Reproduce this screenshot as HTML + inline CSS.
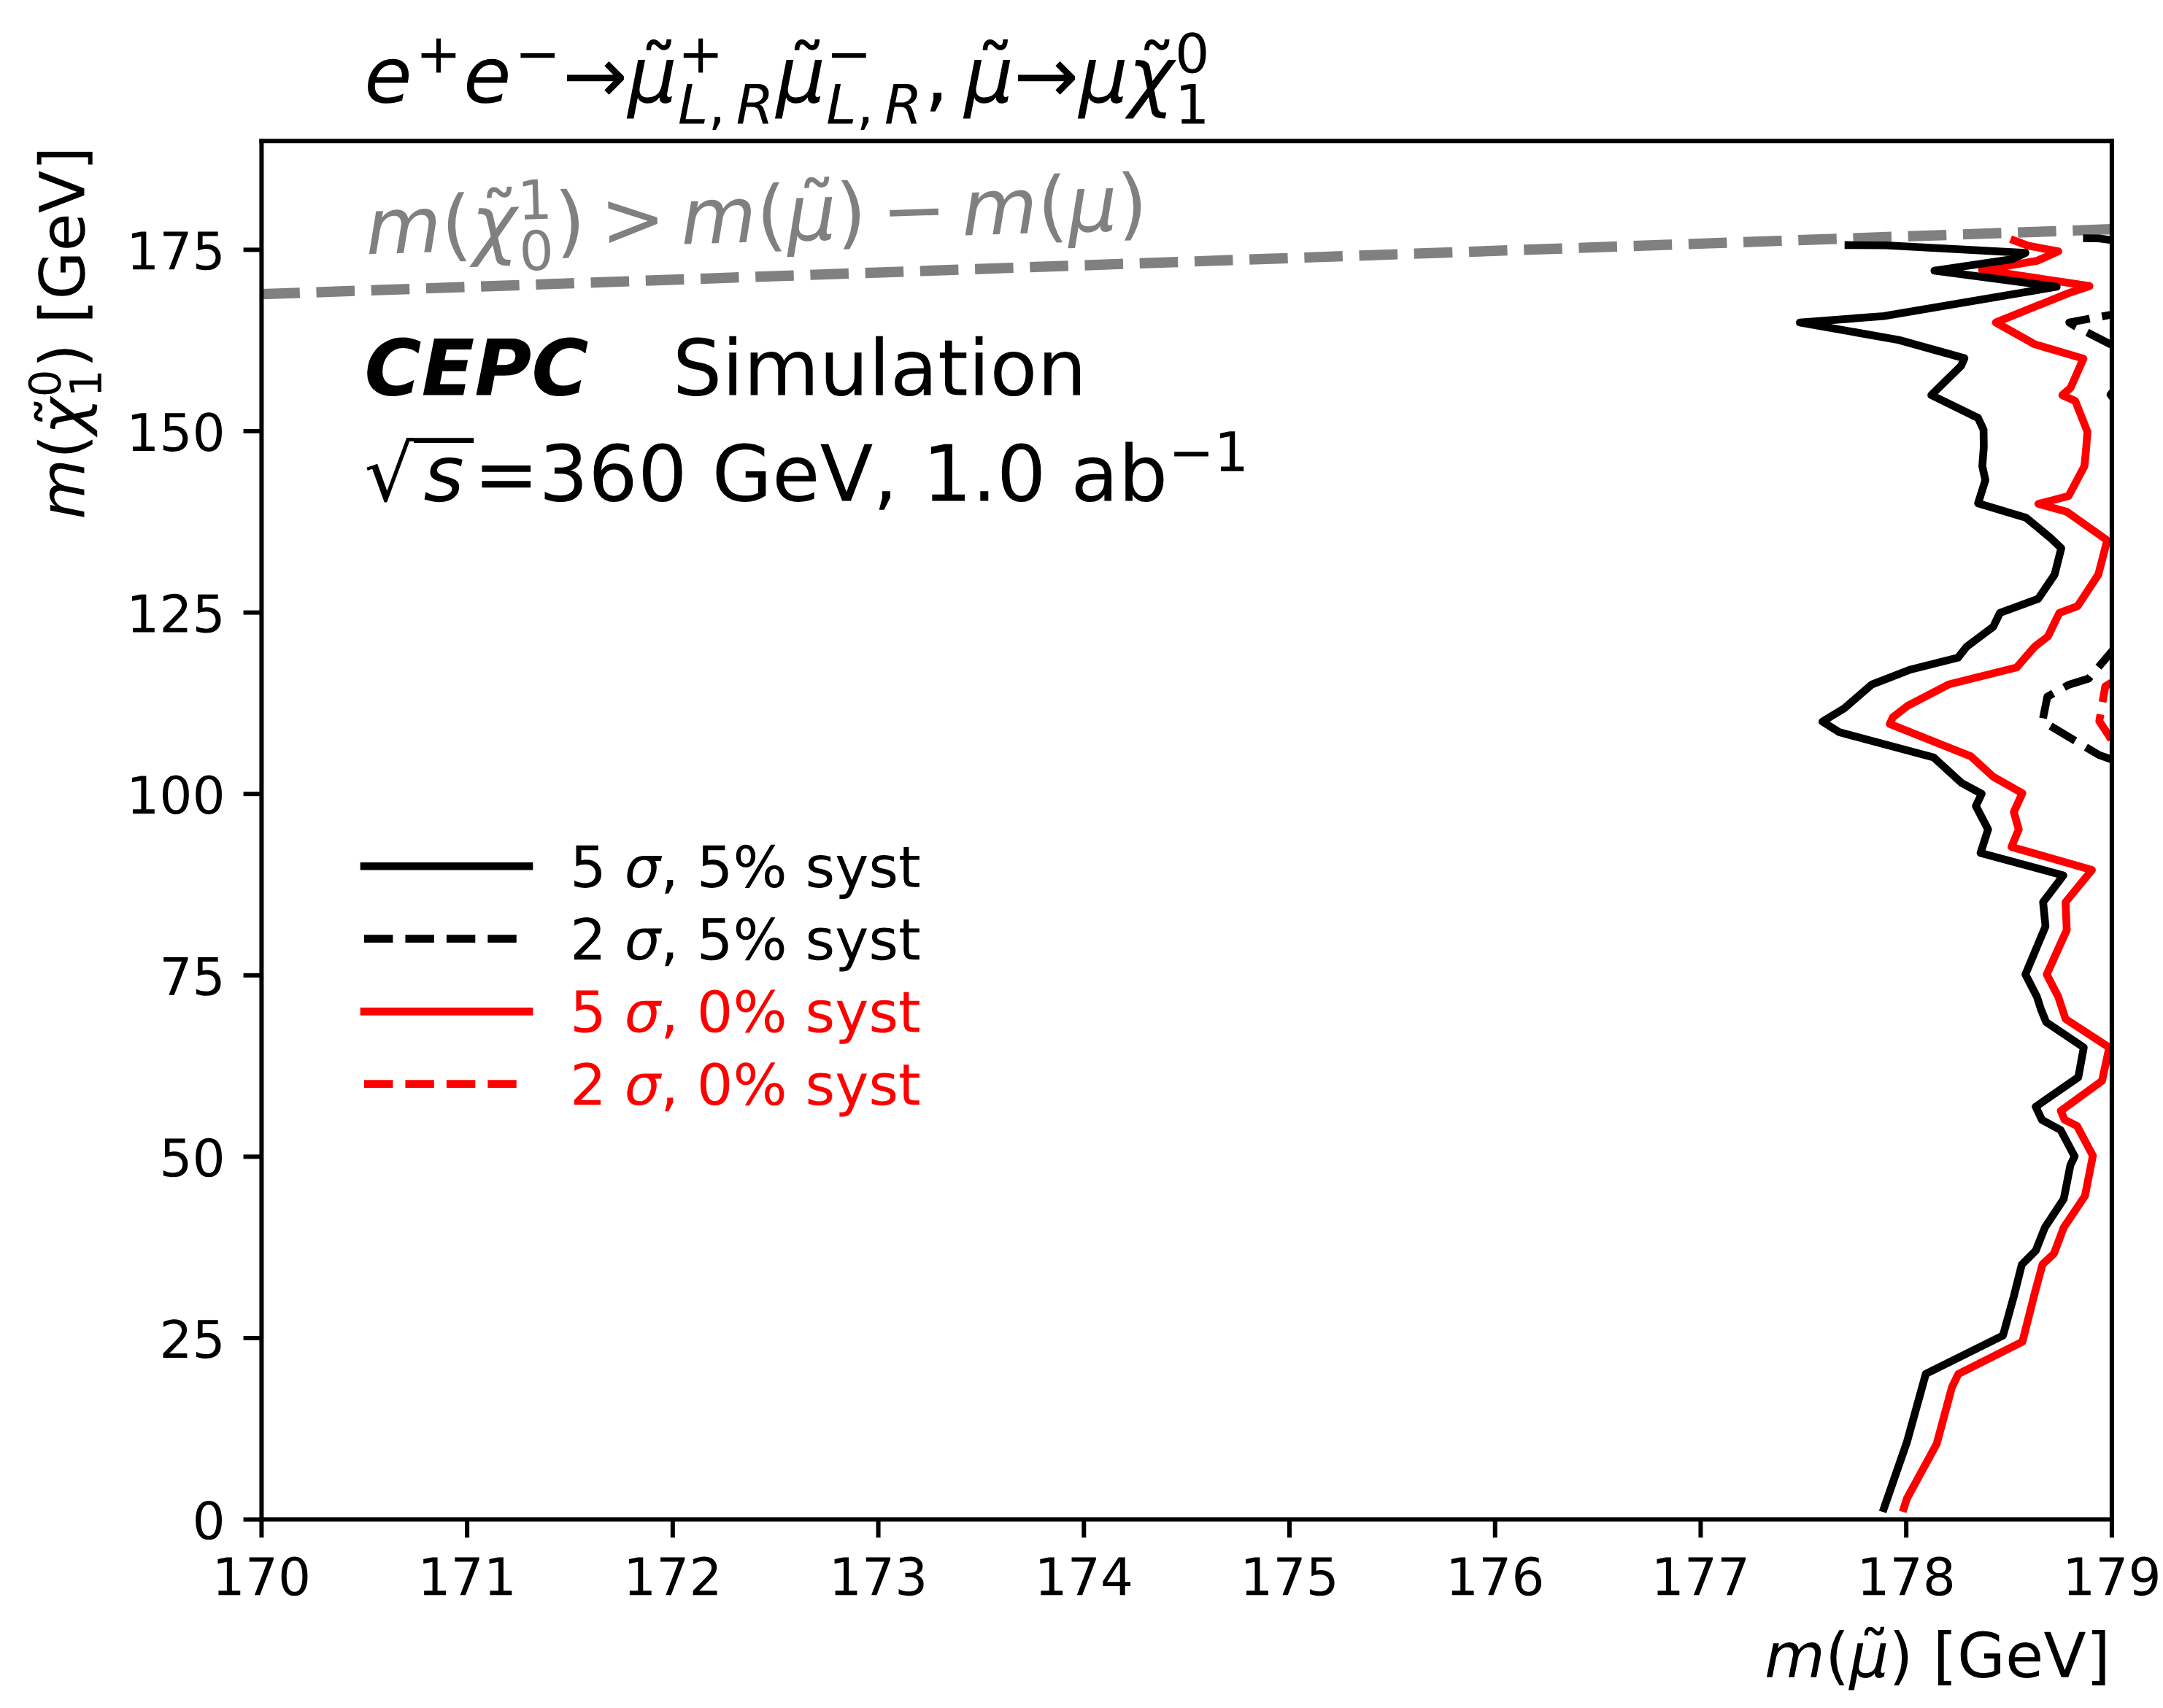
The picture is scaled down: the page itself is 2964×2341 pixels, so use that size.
<!DOCTYPE html>
<html><head><meta charset="utf-8"><title>chart</title>
<style>html,body{margin:0;padding:0;overflow:hidden;background:#fff;font-family:"Liberation Sans",sans-serif;}svg{display:block}</style>
</head><body>
<svg  width="2964" height="2341" viewBox="0 0 417.464789 329.71831"  version="1.1">
 
 <defs>
  <style type="text/css">*{stroke-linejoin: round; stroke-linecap: butt}</style>
 </defs>
 <g id="figure_1">
  <g id="patch_1">
   <path d="M 0 329.71831 
L 417.464789 329.71831 
L 417.464789 0 
L 0 0 
z
" style="fill: #ffffff"/>
  </g>
  <g id="axes_1">
   <g id="patch_2">
    <path d="M 50.478873 293.323944 
L 407.591549 293.323944 
L 407.591549 27.211268 
L 50.478873 27.211268 
z
" style="fill: #ffffff"/>
   </g>
   <g id="matplotlib.axis_1">
    <g id="xtick_1">
     <g id="line2d_1">
      <defs>
       <path id="mb6ef2c08df" d="M 0 0 
L 0 3.5 
" style="stroke: #000000; stroke-width: 0.845"/>
      </defs>
      <g>
       <use href="#mb6ef2c08df" x="50.478873" y="293.323944" style="stroke: #000000; stroke-width: 0.845"/>
      </g>
     </g>
     <g id="text_1">
      <!-- 170 -->
      <g transform="translate(40.935123 307.922381) scale(0.1 -0.1)">
       <defs>
        <path id="DejaVuSans-31" d="M 794 531 
L 1825 531 
L 1825 4091 
L 703 3866 
L 703 4441 
L 1819 4666 
L 2450 4666 
L 2450 531 
L 3481 531 
L 3481 0 
L 794 0 
L 794 531 
z
" transform="scale(0.015625)"/>
        <path id="DejaVuSans-37" d="M 525 4666 
L 3525 4666 
L 3525 4397 
L 1831 0 
L 1172 0 
L 2766 4134 
L 525 4134 
L 525 4666 
z
" transform="scale(0.015625)"/>
        <path id="DejaVuSans-30" d="M 2034 4250 
Q 1547 4250 1301 3770 
Q 1056 3291 1056 2328 
Q 1056 1369 1301 889 
Q 1547 409 2034 409 
Q 2525 409 2770 889 
Q 3016 1369 3016 2328 
Q 3016 3291 2770 3770 
Q 2525 4250 2034 4250 
z
M 2034 4750 
Q 2819 4750 3233 4129 
Q 3647 3509 3647 2328 
Q 3647 1150 3233 529 
Q 2819 -91 2034 -91 
Q 1250 -91 836 529 
Q 422 1150 422 2328 
Q 422 3509 836 4129 
Q 1250 4750 2034 4750 
z
" transform="scale(0.015625)"/>
       </defs>
       <use href="#DejaVuSans-31"/>
       <use href="#DejaVuSans-37" transform="translate(63.623047 0)"/>
       <use href="#DejaVuSans-30" transform="translate(127.246094 0)"/>
      </g>
     </g>
    </g>
    <g id="xtick_2">
     <g id="line2d_2">
      <g>
       <use href="#mb6ef2c08df" x="90.158059" y="293.323944" style="stroke: #000000; stroke-width: 0.845"/>
      </g>
     </g>
     <g id="text_2">
      <!-- 171 -->
      <g transform="translate(80.614309 307.922381) scale(0.1 -0.1)">
       <use href="#DejaVuSans-31"/>
       <use href="#DejaVuSans-37" transform="translate(63.623047 0)"/>
       <use href="#DejaVuSans-31" transform="translate(127.246094 0)"/>
      </g>
     </g>
    </g>
    <g id="xtick_3">
     <g id="line2d_3">
      <g>
       <use href="#mb6ef2c08df" x="129.837246" y="293.323944" style="stroke: #000000; stroke-width: 0.845"/>
      </g>
     </g>
     <g id="text_3">
      <!-- 172 -->
      <g transform="translate(120.293496 307.922381) scale(0.1 -0.1)">
       <defs>
        <path id="DejaVuSans-32" d="M 1228 531 
L 3431 531 
L 3431 0 
L 469 0 
L 469 531 
Q 828 903 1448 1529 
Q 2069 2156 2228 2338 
Q 2531 2678 2651 2914 
Q 2772 3150 2772 3378 
Q 2772 3750 2511 3984 
Q 2250 4219 1831 4219 
Q 1534 4219 1204 4116 
Q 875 4013 500 3803 
L 500 4441 
Q 881 4594 1212 4672 
Q 1544 4750 1819 4750 
Q 2544 4750 2975 4387 
Q 3406 4025 3406 3419 
Q 3406 3131 3298 2873 
Q 3191 2616 2906 2266 
Q 2828 2175 2409 1742 
Q 1991 1309 1228 531 
z
" transform="scale(0.015625)"/>
       </defs>
       <use href="#DejaVuSans-31"/>
       <use href="#DejaVuSans-37" transform="translate(63.623047 0)"/>
       <use href="#DejaVuSans-32" transform="translate(127.246094 0)"/>
      </g>
     </g>
    </g>
    <g id="xtick_4">
     <g id="line2d_4">
      <g>
       <use href="#mb6ef2c08df" x="169.516432" y="293.323944" style="stroke: #000000; stroke-width: 0.845"/>
      </g>
     </g>
     <g id="text_4">
      <!-- 173 -->
      <g transform="translate(159.972682 307.922381) scale(0.1 -0.1)">
       <defs>
        <path id="DejaVuSans-33" d="M 2597 2516 
Q 3050 2419 3304 2112 
Q 3559 1806 3559 1356 
Q 3559 666 3084 287 
Q 2609 -91 1734 -91 
Q 1441 -91 1130 -33 
Q 819 25 488 141 
L 488 750 
Q 750 597 1062 519 
Q 1375 441 1716 441 
Q 2309 441 2620 675 
Q 2931 909 2931 1356 
Q 2931 1769 2642 2001 
Q 2353 2234 1838 2234 
L 1294 2234 
L 1294 2753 
L 1863 2753 
Q 2328 2753 2575 2939 
Q 2822 3125 2822 3475 
Q 2822 3834 2567 4026 
Q 2313 4219 1838 4219 
Q 1578 4219 1281 4162 
Q 984 4106 628 3988 
L 628 4550 
Q 988 4650 1302 4700 
Q 1616 4750 1894 4750 
Q 2613 4750 3031 4423 
Q 3450 4097 3450 3541 
Q 3450 3153 3228 2886 
Q 3006 2619 2597 2516 
z
" transform="scale(0.015625)"/>
       </defs>
       <use href="#DejaVuSans-31"/>
       <use href="#DejaVuSans-37" transform="translate(63.623047 0)"/>
       <use href="#DejaVuSans-33" transform="translate(127.246094 0)"/>
      </g>
     </g>
    </g>
    <g id="xtick_5">
     <g id="line2d_5">
      <g>
       <use href="#mb6ef2c08df" x="209.195618" y="293.323944" style="stroke: #000000; stroke-width: 0.845"/>
      </g>
     </g>
     <g id="text_5">
      <!-- 174 -->
      <g transform="translate(199.651868 307.922381) scale(0.1 -0.1)">
       <defs>
        <path id="DejaVuSans-34" d="M 2419 4116 
L 825 1625 
L 2419 1625 
L 2419 4116 
z
M 2253 4666 
L 3047 4666 
L 3047 1625 
L 3713 1625 
L 3713 1100 
L 3047 1100 
L 3047 0 
L 2419 0 
L 2419 1100 
L 313 1100 
L 313 1709 
L 2253 4666 
z
" transform="scale(0.015625)"/>
       </defs>
       <use href="#DejaVuSans-31"/>
       <use href="#DejaVuSans-37" transform="translate(63.623047 0)"/>
       <use href="#DejaVuSans-34" transform="translate(127.246094 0)"/>
      </g>
     </g>
    </g>
    <g id="xtick_6">
     <g id="line2d_6">
      <g>
       <use href="#mb6ef2c08df" x="248.874804" y="293.323944" style="stroke: #000000; stroke-width: 0.845"/>
      </g>
     </g>
     <g id="text_6">
      <!-- 175 -->
      <g transform="translate(239.331054 307.922381) scale(0.1 -0.1)">
       <defs>
        <path id="DejaVuSans-35" d="M 691 4666 
L 3169 4666 
L 3169 4134 
L 1269 4134 
L 1269 2991 
Q 1406 3038 1543 3061 
Q 1681 3084 1819 3084 
Q 2600 3084 3056 2656 
Q 3513 2228 3513 1497 
Q 3513 744 3044 326 
Q 2575 -91 1722 -91 
Q 1428 -91 1123 -41 
Q 819 9 494 109 
L 494 744 
Q 775 591 1075 516 
Q 1375 441 1709 441 
Q 2250 441 2565 725 
Q 2881 1009 2881 1497 
Q 2881 1984 2565 2268 
Q 2250 2553 1709 2553 
Q 1456 2553 1204 2497 
Q 953 2441 691 2322 
L 691 4666 
z
" transform="scale(0.015625)"/>
       </defs>
       <use href="#DejaVuSans-31"/>
       <use href="#DejaVuSans-37" transform="translate(63.623047 0)"/>
       <use href="#DejaVuSans-35" transform="translate(127.246094 0)"/>
      </g>
     </g>
    </g>
    <g id="xtick_7">
     <g id="line2d_7">
      <g>
       <use href="#mb6ef2c08df" x="288.553991" y="293.323944" style="stroke: #000000; stroke-width: 0.845"/>
      </g>
     </g>
     <g id="text_7">
      <!-- 176 -->
      <g transform="translate(279.010241 307.922381) scale(0.1 -0.1)">
       <defs>
        <path id="DejaVuSans-36" d="M 2113 2584 
Q 1688 2584 1439 2293 
Q 1191 2003 1191 1497 
Q 1191 994 1439 701 
Q 1688 409 2113 409 
Q 2538 409 2786 701 
Q 3034 994 3034 1497 
Q 3034 2003 2786 2293 
Q 2538 2584 2113 2584 
z
M 3366 4563 
L 3366 3988 
Q 3128 4100 2886 4159 
Q 2644 4219 2406 4219 
Q 1781 4219 1451 3797 
Q 1122 3375 1075 2522 
Q 1259 2794 1537 2939 
Q 1816 3084 2150 3084 
Q 2853 3084 3261 2657 
Q 3669 2231 3669 1497 
Q 3669 778 3244 343 
Q 2819 -91 2113 -91 
Q 1303 -91 875 529 
Q 447 1150 447 2328 
Q 447 3434 972 4092 
Q 1497 4750 2381 4750 
Q 2619 4750 2861 4703 
Q 3103 4656 3366 4563 
z
" transform="scale(0.015625)"/>
       </defs>
       <use href="#DejaVuSans-31"/>
       <use href="#DejaVuSans-37" transform="translate(63.623047 0)"/>
       <use href="#DejaVuSans-36" transform="translate(127.246094 0)"/>
      </g>
     </g>
    </g>
    <g id="xtick_8">
     <g id="line2d_8">
      <g>
       <use href="#mb6ef2c08df" x="328.233177" y="293.323944" style="stroke: #000000; stroke-width: 0.845"/>
      </g>
     </g>
     <g id="text_8">
      <!-- 177 -->
      <g transform="translate(318.689427 307.922381) scale(0.1 -0.1)">
       <use href="#DejaVuSans-31"/>
       <use href="#DejaVuSans-37" transform="translate(63.623047 0)"/>
       <use href="#DejaVuSans-37" transform="translate(127.246094 0)"/>
      </g>
     </g>
    </g>
    <g id="xtick_9">
     <g id="line2d_9">
      <g>
       <use href="#mb6ef2c08df" x="367.912363" y="293.323944" style="stroke: #000000; stroke-width: 0.845"/>
      </g>
     </g>
     <g id="text_9">
      <!-- 178 -->
      <g transform="translate(358.368613 307.922381) scale(0.1 -0.1)">
       <defs>
        <path id="DejaVuSans-38" d="M 2034 2216 
Q 1584 2216 1326 1975 
Q 1069 1734 1069 1313 
Q 1069 891 1326 650 
Q 1584 409 2034 409 
Q 2484 409 2743 651 
Q 3003 894 3003 1313 
Q 3003 1734 2745 1975 
Q 2488 2216 2034 2216 
z
M 1403 2484 
Q 997 2584 770 2862 
Q 544 3141 544 3541 
Q 544 4100 942 4425 
Q 1341 4750 2034 4750 
Q 2731 4750 3128 4425 
Q 3525 4100 3525 3541 
Q 3525 3141 3298 2862 
Q 3072 2584 2669 2484 
Q 3125 2378 3379 2068 
Q 3634 1759 3634 1313 
Q 3634 634 3220 271 
Q 2806 -91 2034 -91 
Q 1263 -91 848 271 
Q 434 634 434 1313 
Q 434 1759 690 2068 
Q 947 2378 1403 2484 
z
M 1172 3481 
Q 1172 3119 1398 2916 
Q 1625 2713 2034 2713 
Q 2441 2713 2670 2916 
Q 2900 3119 2900 3481 
Q 2900 3844 2670 4047 
Q 2441 4250 2034 4250 
Q 1625 4250 1398 4047 
Q 1172 3844 1172 3481 
z
" transform="scale(0.015625)"/>
       </defs>
       <use href="#DejaVuSans-31"/>
       <use href="#DejaVuSans-37" transform="translate(63.623047 0)"/>
       <use href="#DejaVuSans-38" transform="translate(127.246094 0)"/>
      </g>
     </g>
    </g>
    <g id="xtick_10">
     <g id="line2d_10">
      <g>
       <use href="#mb6ef2c08df" x="407.591549" y="293.323944" style="stroke: #000000; stroke-width: 0.845"/>
      </g>
     </g>
     <g id="text_10">
      <!-- 179 -->
      <g transform="translate(398.047799 307.922381) scale(0.1 -0.1)">
       <defs>
        <path id="DejaVuSans-39" d="M 703 97 
L 703 672 
Q 941 559 1184 500 
Q 1428 441 1663 441 
Q 2288 441 2617 861 
Q 2947 1281 2994 2138 
Q 2813 1869 2534 1725 
Q 2256 1581 1919 1581 
Q 1219 1581 811 2004 
Q 403 2428 403 3163 
Q 403 3881 828 4315 
Q 1253 4750 1959 4750 
Q 2769 4750 3195 4129 
Q 3622 3509 3622 2328 
Q 3622 1225 3098 567 
Q 2575 -91 1691 -91 
Q 1453 -91 1209 -44 
Q 966 3 703 97 
z
M 1959 2075 
Q 2384 2075 2632 2365 
Q 2881 2656 2881 3163 
Q 2881 3666 2632 3958 
Q 2384 4250 1959 4250 
Q 1534 4250 1286 3958 
Q 1038 3666 1038 3163 
Q 1038 2656 1286 2365 
Q 1534 2075 1959 2075 
z
" transform="scale(0.015625)"/>
       </defs>
       <use href="#DejaVuSans-31"/>
       <use href="#DejaVuSans-37" transform="translate(63.623047 0)"/>
       <use href="#DejaVuSans-39" transform="translate(127.246094 0)"/>
      </g>
     </g>
    </g>
   </g>
   <g id="matplotlib.axis_2">
    <g id="ytick_1">
     <g id="line2d_11">
      <defs>
       <path id="ma16149cf68" d="M 0 0 
L -3.5 0 
" style="stroke: #000000; stroke-width: 0.845"/>
      </defs>
      <g>
       <use href="#ma16149cf68" x="50.478873" y="293.323944" style="stroke: #000000; stroke-width: 0.845"/>
      </g>
     </g>
     <g id="text_11">
      <!-- 0 -->
      <g transform="translate(37.116373 297.123162) scale(0.1 -0.1)">
       <use href="#DejaVuSans-30"/>
      </g>
     </g>
    </g>
    <g id="ytick_2">
     <g id="line2d_12">
      <g>
       <use href="#ma16149cf68" x="50.478873" y="258.309118" style="stroke: #000000; stroke-width: 0.845"/>
      </g>
     </g>
     <g id="text_12">
      <!-- 25 -->
      <g transform="translate(30.753873 262.108337) scale(0.1 -0.1)">
       <use href="#DejaVuSans-32"/>
       <use href="#DejaVuSans-35" transform="translate(63.623047 0)"/>
      </g>
     </g>
    </g>
    <g id="ytick_3">
     <g id="line2d_13">
      <g>
       <use href="#ma16149cf68" x="50.478873" y="223.294292" style="stroke: #000000; stroke-width: 0.845"/>
      </g>
     </g>
     <g id="text_13">
      <!-- 50 -->
      <g transform="translate(30.753873 227.093511) scale(0.1 -0.1)">
       <use href="#DejaVuSans-35"/>
       <use href="#DejaVuSans-30" transform="translate(63.623047 0)"/>
      </g>
     </g>
    </g>
    <g id="ytick_4">
     <g id="line2d_14">
      <g>
       <use href="#ma16149cf68" x="50.478873" y="188.279466" style="stroke: #000000; stroke-width: 0.845"/>
      </g>
     </g>
     <g id="text_14">
      <!-- 75 -->
      <g transform="translate(30.753873 192.078685) scale(0.1 -0.1)">
       <use href="#DejaVuSans-37"/>
       <use href="#DejaVuSans-35" transform="translate(63.623047 0)"/>
      </g>
     </g>
    </g>
    <g id="ytick_5">
     <g id="line2d_15">
      <g>
       <use href="#ma16149cf68" x="50.478873" y="153.26464" style="stroke: #000000; stroke-width: 0.845"/>
      </g>
     </g>
     <g id="text_15">
      <!-- 100 -->
      <g transform="translate(24.391373 157.063859) scale(0.1 -0.1)">
       <use href="#DejaVuSans-31"/>
       <use href="#DejaVuSans-30" transform="translate(63.623047 0)"/>
       <use href="#DejaVuSans-30" transform="translate(127.246094 0)"/>
      </g>
     </g>
    </g>
    <g id="ytick_6">
     <g id="line2d_16">
      <g>
       <use href="#ma16149cf68" x="50.478873" y="118.249815" style="stroke: #000000; stroke-width: 0.845"/>
      </g>
     </g>
     <g id="text_16">
      <!-- 125 -->
      <g transform="translate(24.391373 122.049033) scale(0.1 -0.1)">
       <use href="#DejaVuSans-31"/>
       <use href="#DejaVuSans-32" transform="translate(63.623047 0)"/>
       <use href="#DejaVuSans-35" transform="translate(127.246094 0)"/>
      </g>
     </g>
    </g>
    <g id="ytick_7">
     <g id="line2d_17">
      <g>
       <use href="#ma16149cf68" x="50.478873" y="83.234989" style="stroke: #000000; stroke-width: 0.845"/>
      </g>
     </g>
     <g id="text_17">
      <!-- 150 -->
      <g transform="translate(24.391373 87.034208) scale(0.1 -0.1)">
       <use href="#DejaVuSans-31"/>
       <use href="#DejaVuSans-35" transform="translate(63.623047 0)"/>
       <use href="#DejaVuSans-30" transform="translate(127.246094 0)"/>
      </g>
     </g>
    </g>
    <g id="ytick_8">
     <g id="line2d_18">
      <g>
       <use href="#ma16149cf68" x="50.478873" y="48.220163" style="stroke: #000000; stroke-width: 0.845"/>
      </g>
     </g>
     <g id="text_18">
      <!-- 175 -->
      <g transform="translate(24.391373 52.019382) scale(0.1 -0.1)">
       <use href="#DejaVuSans-31"/>
       <use href="#DejaVuSans-37" transform="translate(63.623047 0)"/>
       <use href="#DejaVuSans-35" transform="translate(127.246094 0)"/>
      </g>
     </g>
    </g>
   </g>
   <g id="line2d_19">
    <path d="M 50.464789 56.788732 
L 407.591549 44.239437 
" clip-path="url(#pb30cb922de)" style="fill: none; stroke-dasharray: 7.4,3.2; stroke-dashoffset: 0; stroke: #808080; stroke-width: 2"/>
   </g>
   <g id="line2d_20">
    <path d="M 388.042254 46.15493 
L 391.408451 47.43662 
L 397.267606 48.521127 
L 393.183099 50.338028 
L 382.535211 52.098592 
L 403.28169 55.225352 
L 399.15493 56.619718 
L 385.197183 62.253521 
L 392.732394 66.478873 
L 402.112676 69.225352 
L 399.605634 74.901408 
L 398.028169 76.28169 
L 400.535211 77.408451 
L 402.873239 83.323944 
L 402.633803 86.605634 
L 402.295775 90 
L 399.239437 95.746479 
L 393.408451 97.267606 
L 398.887324 98.788732 
L 406.690141 104.295775 
L 404.985915 110.915493 
L 401 117 
L 397.478873 118.295775 
L 395.253521 122.873239 
L 392.676056 124.859155 
L 389.197183 128.859155 
L 376.084507 132.140845 
L 368.28169 136.183099 
L 365.338028 138.450704 
L 364.732394 139.760563 
L 380.422535 146.028169 
L 384.690141 149.957746 
L 390.309859 153.126761 
L 388.676056 156.760563 
L 389.619718 160.112676 
L 388.225352 163.492958 
L 403.746479 167.943662 
L 398.661972 174.15493 
L 398.887324 179.549296 
L 395.028169 188.098592 
L 397.253521 192.43662 
L 398.661972 196.704225 
L 407.098592 202.211268 
L 405.690141 208.661972 
L 397.746479 214.450704 
L 398.478873 216.169014 
L 400.873239 217.352113 
L 403.929577 223.084507 
L 402.408451 230.859155 
L 398.309859 236.957746 
L 396.422535 242 
L 394.197183 244.112676 
L 392.56338 250.197183 
L 390.338028 259 
L 377.957746 265.239437 
L 376.71831 267.830986 
L 373.788732 278.732394 
L 368.042254 289.28169 
L 367.225352 291.859155 
" clip-path="url(#pb30cb922de)" style="fill: none; stroke: #ff0000; stroke-width: 1.5"/>
   </g>
   <g id="line2d_21">
    <path d="M 356.014085 47.309859 
L 363.971831 47.352113 
L 390.915493 48.816901 
L 388.366197 50.042254 
L 373.352113 52.239437 
L 396.943662 55.352113 
L 363.591549 61.028169 
L 347.380282 62.253521 
L 366.478873 65.633803 
L 379.140845 69.15493 
L 378.492958 70.633803 
L 372.746479 76.267606 
L 381.774648 80.690141 
L 382.830986 82.971831 
L 382.873239 86.366197 
L 382.591549 90 
L 383.183099 92.690141 
L 381.774648 97.15493 
L 391.042254 99.957746 
L 395.71831 103.830986 
L 397.830986 105.816901 
L 396.549296 110.915493 
L 393.380282 115.605634 
L 386 118.295775 
L 384.704225 120.985915 
L 379.549296 124.859155 
L 377.901408 126.957746 
L 368.521127 129.323944 
L 361.253521 132.140845 
L 355.971831 136.71831 
L 351.732394 139.295775 
L 355.028169 141.366197 
L 373.197183 146.211268 
L 378.591549 151.140845 
L 382.464789 153.239437 
L 381.352113 155.591549 
L 383.704225 160.112676 
L 382.253521 164.661972 
L 398.239437 169 
L 394.323944 174.15493 
L 394.788732 178.84507 
L 390.915493 188.098592 
L 393.140845 192.43662 
L 393.943662 194.943662 
L 394.901408 197.295775 
L 402.169014 202.211268 
L 401.112676 207.957746 
L 392.901408 213.633803 
L 394.084507 216.169014 
L 397.71831 218.15493 
L 400.408451 223.225352 
L 399.591549 224.929577 
L 398.309859 231.450704 
L 394.676056 236.957746 
L 392.915493 241.408451 
L 390.211268 244.112676 
L 388.690141 250.197183 
L 386.577465 257.816901 
L 371.690141 265.211268 
L 368.042254 278.380282 
L 363.366197 291.859155 
" clip-path="url(#pb30cb922de)" style="fill: none; stroke: #000000; stroke-width: 1.5"/>
   </g>
   <g id="line2d_22">
    <path d="M 408.605634 124.56338 
L 403.112676 131 
L 399.239437 132.197183 
L 395.140845 134.507042 
L 394.197183 139.225352 
L 405.098592 145.746479 
L 407.450704 146.591549 
L 408.450704 146.901408 
" clip-path="url(#pb30cb922de)" style="fill: none; stroke-dasharray: 5.55,2.4; stroke-dashoffset: 0; stroke: #000000; stroke-width: 1.5"/>
   </g>
   <g id="line2d_23">
    <path d="M 411.140845 60.070423 
L 399.380282 62.253521 
L 400.366197 62.887324 
L 408.450704 67.042254 
" clip-path="url(#pb30cb922de)" style="fill: none; stroke-dasharray: 5.55,2.4; stroke-dashoffset: 0; stroke: #000000; stroke-width: 1.5"/>
   </g>
   <g id="line2d_24">
    <path d="M 408.450704 74.788732 
L 407.338028 76.183099 
L 408.450704 77.605634 
" clip-path="url(#pb30cb922de)" style="fill: none; stroke: #000000; stroke-width: 1.5"/>
   </g>
   <g id="line2d_25">
    <path d="M 402.028169 45.985915 
L 405.042254 46.028169 
L 407.225352 46.295775 
L 408.169014 46.43662 
" clip-path="url(#pb30cb922de)" style="fill: none; stroke: #000000; stroke-width: 1.5"/>
   </g>
   <g id="line2d_26">
    <path d="M 408.43662 131.211268 
L 406.323944 132.492958 
L 405.169014 139.211268 
L 407.450704 142.676056 
L 408.450704 144.084507 
" clip-path="url(#pb30cb922de)" style="fill: none; stroke-dasharray: 5.55,2.4; stroke-dashoffset: 0; stroke: #ff0000; stroke-width: 1.5"/>
   </g>
   <g id="patch_3">
    <path d="M 50.478873 293.323944 
L 50.478873 27.211268 
" style="fill: none; stroke: #000000; stroke-width: 0.845; stroke-linejoin: miter; stroke-linecap: square"/>
   </g>
   <g id="patch_4">
    <path d="M 407.591549 293.323944 
L 407.591549 27.211268 
" style="fill: none; stroke: #000000; stroke-width: 0.845; stroke-linejoin: miter; stroke-linecap: square"/>
   </g>
   <g id="patch_5">
    <path d="M 50.478873 293.323944 
L 407.591549 293.323944 
" style="fill: none; stroke: #000000; stroke-width: 0.845; stroke-linejoin: miter; stroke-linecap: square"/>
   </g>
   <g id="patch_6">
    <path d="M 50.478873 27.211268 
L 407.591549 27.211268 
" style="fill: none; stroke: #000000; stroke-width: 0.845; stroke-linejoin: miter; stroke-linecap: square"/>
   </g>
  </g>
  <g id="axes_2">
   <g id="line2d_27">
    <path d="M 70.28169 167.211268 
L 102.112676 167.211268 
" clip-path="url(#p9492256b67)" style="fill: none; stroke: #000000; stroke-width: 1.5; stroke-linecap: square"/>
   </g>
   <g id="line2d_28">
    <path d="M 70.28169 181.211268 
L 102.042254 181.211268 
" clip-path="url(#p9492256b67)" style="fill: none; stroke-dasharray: 5.55,2.4; stroke-dashoffset: 0; stroke: #000000; stroke-width: 1.5"/>
   </g>
   <g id="line2d_29">
    <path d="M 70.28169 195.253521 
L 102.112676 195.253521 
" clip-path="url(#p9492256b67)" style="fill: none; stroke: #ff0000; stroke-width: 1.5; stroke-linecap: square"/>
   </g>
   <g id="line2d_30">
    <path d="M 70.28169 209.239437 
L 102.042254 209.239437 
" clip-path="url(#p9492256b67)" style="fill: none; stroke-dasharray: 5.55,2.4; stroke-dashoffset: 0; stroke: #ff0000; stroke-width: 1.5"/>
   </g>
   <g id="text_19">
    <!-- $e^{+}e^{-}\hspace{-0.2}\rightarrow\hspace{-0.2}\tilde{\mu}^{+}_{L,R}\tilde{\mu}^{-}_{L,R},\tilde{\mu}\hspace{-0.2}\rightarrow\hspace{-0.2}\mu\tilde{\chi}^{0}_{1}$ -->
    <g transform="translate(70.309859 19.873239) scale(0.15 -0.15)">
     <defs>
      <path id="DejaVuSans-Oblique-65" d="M 3078 2063 
Q 3088 2113 3092 2166 
Q 3097 2219 3097 2272 
Q 3097 2653 2873 2875 
Q 2650 3097 2266 3097 
Q 1838 3097 1509 2826 
Q 1181 2556 1013 2059 
L 3078 2063 
z
M 3578 1613 
L 903 1613 
Q 884 1494 878 1425 
Q 872 1356 872 1306 
Q 872 872 1139 634 
Q 1406 397 1894 397 
Q 2269 397 2603 481 
Q 2938 566 3225 728 
L 3116 159 
Q 2806 34 2476 -28 
Q 2147 -91 1806 -91 
Q 1078 -91 686 257 
Q 294 606 294 1247 
Q 294 1794 489 2264 
Q 684 2734 1063 3103 
Q 1306 3334 1642 3459 
Q 1978 3584 2356 3584 
Q 2950 3584 3301 3228 
Q 3653 2872 3653 2272 
Q 3653 2128 3634 1964 
Q 3616 1800 3578 1613 
z
" transform="scale(0.015625)"/>
      <path id="DejaVuSans-2b" d="M 2944 4013 
L 2944 2272 
L 4684 2272 
L 4684 1741 
L 2944 1741 
L 2944 0 
L 2419 0 
L 2419 1741 
L 678 1741 
L 678 2272 
L 2419 2272 
L 2419 4013 
L 2944 4013 
z
" transform="scale(0.015625)"/>
      <path id="DejaVuSans-2212" d="M 678 2272 
L 4684 2272 
L 4684 1741 
L 678 1741 
L 678 2272 
z
" transform="scale(0.015625)"/>
      <path id="DejaVuSans-2192" d="M 5050 2147 
L 5050 1866 
L 3822 638 
L 3447 1013 
L 4175 1741 
L 366 1741 
L 366 2272 
L 4175 2272 
L 3447 3000 
L 3822 3375 
L 5050 2147 
z
" transform="scale(0.015625)"/>
      <path id="DejaVuSans-303" d="M -1621 4281 
L -1799 4453 
Q -1867 4516 -1919 4545 
Q -1971 4575 -2011 4575 
Q -2130 4575 -2186 4461 
Q -2242 4347 -2249 4091 
L -2639 4091 
Q -2633 4513 -2473 4742 
Q -2314 4972 -2030 4972 
Q -1911 4972 -1811 4928 
Q -1711 4884 -1596 4781 
L -1417 4609 
Q -1349 4547 -1297 4517 
Q -1246 4488 -1205 4488 
Q -1086 4488 -1030 4602 
Q -974 4716 -967 4972 
L -577 4972 
Q -583 4550 -742 4320 
Q -902 4091 -1186 4091 
Q -1305 4091 -1405 4134 
Q -1505 4178 -1621 4281 
z
" transform="scale(0.015625)"/>
      <path id="DejaVuSans-Oblique-3bc" d="M -84 -1331 
L 856 3500 
L 1434 3500 
L 1009 1322 
Q 997 1256 987 1175 
Q 978 1094 978 1013 
Q 978 722 1161 565 
Q 1344 409 1684 409 
Q 2147 409 2431 671 
Q 2716 934 2816 1459 
L 3213 3500 
L 3788 3500 
L 3266 809 
Q 3253 750 3248 706 
Q 3244 663 3244 628 
Q 3244 531 3283 486 
Q 3322 441 3406 441 
Q 3438 441 3492 456 
Q 3547 472 3647 513 
L 3559 50 
Q 3422 -19 3297 -55 
Q 3172 -91 3053 -91 
Q 2847 -91 2730 40 
Q 2613 172 2613 403 
Q 2438 153 2195 31 
Q 1953 -91 1625 -91 
Q 1334 -91 1117 43 
Q 900 178 831 397 
L 494 -1331 
L -84 -1331 
z
" transform="scale(0.015625)"/>
      <path id="DejaVuSans-Oblique-4c" d="M 1075 4666 
L 1709 4666 
L 909 525 
L 3181 525 
L 3078 0 
L 172 0 
L 1075 4666 
z
" transform="scale(0.015625)"/>
      <path id="DejaVuSans-2c" d="M 750 794 
L 1409 794 
L 1409 256 
L 897 -744 
L 494 -744 
L 750 256 
L 750 794 
z
" transform="scale(0.015625)"/>
      <path id="DejaVuSans-Oblique-52" d="M 1613 4147 
L 1294 2491 
L 2106 2491 
Q 2584 2491 2879 2755 
Q 3175 3019 3175 3444 
Q 3175 3784 2976 3965 
Q 2778 4147 2406 4147 
L 1613 4147 
z
M 2772 2241 
Q 2972 2194 3105 2009 
Q 3238 1825 3413 1275 
L 3809 0 
L 3144 0 
L 2778 1197 
Q 2638 1659 2453 1815 
Q 2269 1972 1888 1972 
L 1191 1972 
L 806 0 
L 172 0 
L 1081 4666 
L 2503 4666 
Q 3150 4666 3495 4373 
Q 3841 4081 3841 3531 
Q 3841 3044 3547 2687 
Q 3253 2331 2772 2241 
z
" transform="scale(0.015625)"/>
      <path id="DejaVuSans-Oblique-3c7" d="M 1922 -781 
L 1691 416 
L 394 -1334 
L -284 -1334 
L 1553 1141 
L 1269 2613 
Q 1194 3006 713 3006 
L 559 3006 
L 653 3500 
L 872 3494 
Q 1675 3472 1775 2950 
L 2006 1753 
L 3303 3503 
L 3981 3503 
L 2144 1028 
L 2428 -444 
Q 2503 -838 2984 -838 
L 3138 -838 
L 3044 -1331 
L 2825 -1325 
Q 2022 -1303 1922 -781 
z
" transform="scale(0.015625)"/>
     </defs>
     <use href="#DejaVuSans-Oblique-65" transform="translate(0 0.765625)"/>
     <use href="#DejaVuSans-2b" transform="translate(66.173333 39.046875) scale(0.7)"/>
     <use href="#DejaVuSans-Oblique-65" transform="translate(127.560052 0.765625)"/>
     <use href="#DejaVuSans-2212" transform="translate(193.733385 39.046875) scale(0.7)"/>
     <use href="#DejaVuSans-2192" transform="translate(255.120104 0.765625)"/>
     <use href="#DejaVuSans-303" transform="translate(404.049303 4.03125)"/>
     <use href="#DejaVuSans-Oblique-3bc" transform="translate(338.909167 0.765625)"/>
     <use href="#DejaVuSans-2b" transform="translate(403.489245 39.046875) scale(0.7)"/>
     <use href="#DejaVuSans-Oblique-4c" transform="translate(403.489245 -26.578125) scale(0.7)"/>
     <use href="#DejaVuSans-2c" transform="translate(442.488268 -26.578125) scale(0.7)"/>
     <use href="#DejaVuSans-Oblique-52" transform="translate(478.37694 -26.578125) scale(0.7)"/>
     <use href="#DejaVuSans-303" transform="translate(594.889147 4.03125)"/>
     <use href="#DejaVuSans-Oblique-3bc" transform="translate(529.74901 0.765625)"/>
     <use href="#DejaVuSans-2212" transform="translate(594.329089 39.046875) scale(0.7)"/>
     <use href="#DejaVuSans-Oblique-4c" transform="translate(594.329089 -26.578125) scale(0.7)"/>
     <use href="#DejaVuSans-2c" transform="translate(633.328112 -26.578125) scale(0.7)"/>
     <use href="#DejaVuSans-Oblique-52" transform="translate(669.216784 -26.578125) scale(0.7)"/>
     <use href="#DejaVuSans-2c" transform="translate(720.588854 0.765625)"/>
     <use href="#DejaVuSans-303" transform="translate(836.998522 4.03125)"/>
     <use href="#DejaVuSans-Oblique-3bc" transform="translate(771.858385 0.765625)"/>
     <use href="#DejaVuSans-2192" transform="translate(835.481432 0.765625)"/>
     <use href="#DejaVuSans-Oblique-3bc" transform="translate(919.270495 0.765625)"/>
     <use href="#DejaVuSans-303" transform="translate(1044.922839 4.078125)"/>
     <use href="#DejaVuSans-Oblique-3c7" transform="translate(982.893542 0.765625)"/>
     <use href="#DejaVuSans-30" transform="translate(1043.03026 39.046875) scale(0.7)"/>
     <use href="#DejaVuSans-31" transform="translate(1043.03026 -26.578125) scale(0.7)"/>
    </g>
   </g>
   <g id="text_20">
    <!-- $m(\tilde{\chi}^{1}_{0})&gt;m(\tilde{\mu})-m(\mu)$ -->
    <g style="fill: #808080" transform="translate(70.71831 49.15493) rotate(-1.8) scale(0.15 -0.15)">
     <defs>
      <path id="DejaVuSans-Oblique-6d" d="M 5747 2113 
L 5338 0 
L 4763 0 
L 5166 2094 
Q 5191 2228 5203 2325 
Q 5216 2422 5216 2491 
Q 5216 2772 5059 2928 
Q 4903 3084 4622 3084 
Q 4203 3084 3875 2770 
Q 3547 2456 3450 1953 
L 3066 0 
L 2491 0 
L 2900 2094 
Q 2925 2209 2937 2307 
Q 2950 2406 2950 2484 
Q 2950 2769 2794 2926 
Q 2638 3084 2363 3084 
Q 1938 3084 1609 2770 
Q 1281 2456 1184 1953 
L 800 0 
L 225 0 
L 909 3500 
L 1484 3500 
L 1375 2956 
Q 1609 3263 1923 3423 
Q 2238 3584 2597 3584 
Q 2978 3584 3223 3384 
Q 3469 3184 3519 2828 
Q 3781 3197 4126 3390 
Q 4472 3584 4856 3584 
Q 5306 3584 5551 3325 
Q 5797 3066 5797 2591 
Q 5797 2488 5784 2364 
Q 5772 2241 5747 2113 
z
" transform="scale(0.015625)"/>
      <path id="DejaVuSans-28" d="M 1984 4856 
Q 1566 4138 1362 3434 
Q 1159 2731 1159 2009 
Q 1159 1288 1364 580 
Q 1569 -128 1984 -844 
L 1484 -844 
Q 1016 -109 783 600 
Q 550 1309 550 2009 
Q 550 2706 781 3412 
Q 1013 4119 1484 4856 
L 1984 4856 
z
" transform="scale(0.015625)"/>
      <path id="DejaVuSans-29" d="M 513 4856 
L 1013 4856 
Q 1481 4119 1714 3412 
Q 1947 2706 1947 2009 
Q 1947 1309 1714 600 
Q 1481 -109 1013 -844 
L 513 -844 
Q 928 -128 1133 580 
Q 1338 1288 1338 2009 
Q 1338 2731 1133 3434 
Q 928 4138 513 4856 
z
" transform="scale(0.015625)"/>
      <path id="DejaVuSans-3e" d="M 678 3150 
L 678 3719 
L 4684 2266 
L 4684 1747 
L 678 294 
L 678 863 
L 3897 2003 
L 678 3150 
z
" transform="scale(0.015625)"/>
     </defs>
     <use href="#DejaVuSans-Oblique-6d" transform="translate(0 0.684375)"/>
     <use href="#DejaVuSans-28" transform="translate(97.412109 0.684375)"/>
     <use href="#DejaVuSans-303" transform="translate(198.455078 3.996875)"/>
     <use href="#DejaVuSans-Oblique-3c7" transform="translate(136.425781 0.684375)"/>
     <use href="#DejaVuSans-31" transform="translate(196.5625 38.965625) scale(0.7)"/>
     <use href="#DejaVuSans-30" transform="translate(196.5625 -26.659375) scale(0.7)"/>
     <use href="#DejaVuSans-29" transform="translate(243.833008 0.684375)"/>
     <use href="#DejaVuSans-3e" transform="translate(302.329102 0.684375)"/>
     <use href="#DejaVuSans-Oblique-6d" transform="translate(405.600586 0.684375)"/>
     <use href="#DejaVuSans-28" transform="translate(503.012695 0.684375)"/>
     <use href="#DejaVuSans-303" transform="translate(607.166504 3.95)"/>
     <use href="#DejaVuSans-Oblique-3bc" transform="translate(542.026367 0.684375)"/>
     <use href="#DejaVuSans-29" transform="translate(605.649414 0.684375)"/>
     <use href="#DejaVuSans-2212" transform="translate(664.145508 0.684375)"/>
     <use href="#DejaVuSans-Oblique-6d" transform="translate(767.416992 0.684375)"/>
     <use href="#DejaVuSans-28" transform="translate(864.829102 0.684375)"/>
     <use href="#DejaVuSans-Oblique-3bc" transform="translate(903.842773 0.684375)"/>
     <use href="#DejaVuSans-29" transform="translate(967.46582 0.684375)"/>
    </g>
   </g>
   <g id="text_21">
    <!-- CEPC -->
    <g transform="translate(70.338028 76.28169) scale(0.15 -0.15)">
     <defs>
      <path id="DejaVuSans-BoldOblique-43" d="M 3878 219 
Q 3447 66 3050 -12 
Q 2653 -91 2297 -91 
Q 1356 -91 793 425 
Q 231 941 231 1791 
Q 231 2350 409 2845 
Q 588 3341 934 3750 
Q 1344 4231 1920 4490 
Q 2497 4750 3163 4750 
Q 3525 4750 3890 4664 
Q 4256 4578 4634 4403 
L 4441 3438 
Q 4141 3666 3837 3772 
Q 3534 3878 3188 3878 
Q 2466 3878 1978 3322 
Q 1491 2766 1491 1931 
Q 1491 1394 1791 1087 
Q 2091 781 2619 781 
Q 2934 781 3289 895 
Q 3644 1009 4084 1253 
L 3878 219 
z
" transform="scale(0.015625)"/>
      <path id="DejaVuSans-BoldOblique-45" d="M 1044 4666 
L 4288 4666 
L 4109 3756 
L 2069 3756 
L 1900 2888 
L 3822 2888 
L 3641 1978 
L 1722 1978 
L 1516 909 
L 3622 909 
L 3450 0 
L 134 0 
L 1044 4666 
z
" transform="scale(0.015625)"/>
      <path id="DejaVuSans-BoldOblique-50" d="M 1044 4666 
L 3041 4666 
Q 3775 4666 4189 4330 
Q 4603 3994 4603 3397 
Q 4603 3031 4465 2701 
Q 4328 2372 4072 2125 
Q 3794 1859 3409 1739 
Q 3025 1619 2444 1619 
L 1650 1619 
L 1338 0 
L 134 0 
L 1044 4666 
z
M 2081 3794 
L 1825 2491 
L 2491 2491 
Q 2916 2491 3141 2691 
Q 3366 2891 3366 3272 
Q 3366 3525 3205 3659 
Q 3044 3794 2741 3794 
L 2081 3794 
z
" transform="scale(0.015625)"/>
     </defs>
     <use href="#DejaVuSans-BoldOblique-43"/>
     <use href="#DejaVuSans-BoldOblique-45" transform="translate(73.388672 0)"/>
     <use href="#DejaVuSans-BoldOblique-50" transform="translate(141.699219 0)"/>
     <use href="#DejaVuSans-BoldOblique-43" transform="translate(214.990234 0)"/>
    </g>
   </g>
   <g id="text_22">
    <!-- Simulation -->
    <g transform="translate(129.823944 76.28169) scale(0.15 -0.15)">
     <defs>
      <path id="DejaVuSans-53" d="M 3425 4513 
L 3425 3897 
Q 3066 4069 2747 4153 
Q 2428 4238 2131 4238 
Q 1616 4238 1336 4038 
Q 1056 3838 1056 3469 
Q 1056 3159 1242 3001 
Q 1428 2844 1947 2747 
L 2328 2669 
Q 3034 2534 3370 2195 
Q 3706 1856 3706 1288 
Q 3706 609 3251 259 
Q 2797 -91 1919 -91 
Q 1588 -91 1214 -16 
Q 841 59 441 206 
L 441 856 
Q 825 641 1194 531 
Q 1563 422 1919 422 
Q 2459 422 2753 634 
Q 3047 847 3047 1241 
Q 3047 1584 2836 1778 
Q 2625 1972 2144 2069 
L 1759 2144 
Q 1053 2284 737 2584 
Q 422 2884 422 3419 
Q 422 4038 858 4394 
Q 1294 4750 2059 4750 
Q 2388 4750 2728 4690 
Q 3069 4631 3425 4513 
z
" transform="scale(0.015625)"/>
      <path id="DejaVuSans-69" d="M 603 3500 
L 1178 3500 
L 1178 0 
L 603 0 
L 603 3500 
z
M 603 4863 
L 1178 4863 
L 1178 4134 
L 603 4134 
L 603 4863 
z
" transform="scale(0.015625)"/>
      <path id="DejaVuSans-6d" d="M 3328 2828 
Q 3544 3216 3844 3400 
Q 4144 3584 4550 3584 
Q 5097 3584 5394 3201 
Q 5691 2819 5691 2113 
L 5691 0 
L 5113 0 
L 5113 2094 
Q 5113 2597 4934 2840 
Q 4756 3084 4391 3084 
Q 3944 3084 3684 2787 
Q 3425 2491 3425 1978 
L 3425 0 
L 2847 0 
L 2847 2094 
Q 2847 2600 2669 2842 
Q 2491 3084 2119 3084 
Q 1678 3084 1418 2786 
Q 1159 2488 1159 1978 
L 1159 0 
L 581 0 
L 581 3500 
L 1159 3500 
L 1159 2956 
Q 1356 3278 1631 3431 
Q 1906 3584 2284 3584 
Q 2666 3584 2933 3390 
Q 3200 3197 3328 2828 
z
" transform="scale(0.015625)"/>
      <path id="DejaVuSans-75" d="M 544 1381 
L 544 3500 
L 1119 3500 
L 1119 1403 
Q 1119 906 1312 657 
Q 1506 409 1894 409 
Q 2359 409 2629 706 
Q 2900 1003 2900 1516 
L 2900 3500 
L 3475 3500 
L 3475 0 
L 2900 0 
L 2900 538 
Q 2691 219 2414 64 
Q 2138 -91 1772 -91 
Q 1169 -91 856 284 
Q 544 659 544 1381 
z
M 1991 3584 
L 1991 3584 
z
" transform="scale(0.015625)"/>
      <path id="DejaVuSans-6c" d="M 603 4863 
L 1178 4863 
L 1178 0 
L 603 0 
L 603 4863 
z
" transform="scale(0.015625)"/>
      <path id="DejaVuSans-61" d="M 2194 1759 
Q 1497 1759 1228 1600 
Q 959 1441 959 1056 
Q 959 750 1161 570 
Q 1363 391 1709 391 
Q 2188 391 2477 730 
Q 2766 1069 2766 1631 
L 2766 1759 
L 2194 1759 
z
M 3341 1997 
L 3341 0 
L 2766 0 
L 2766 531 
Q 2569 213 2275 61 
Q 1981 -91 1556 -91 
Q 1019 -91 701 211 
Q 384 513 384 1019 
Q 384 1609 779 1909 
Q 1175 2209 1959 2209 
L 2766 2209 
L 2766 2266 
Q 2766 2663 2505 2880 
Q 2244 3097 1772 3097 
Q 1472 3097 1187 3025 
Q 903 2953 641 2809 
L 641 3341 
Q 956 3463 1253 3523 
Q 1550 3584 1831 3584 
Q 2591 3584 2966 3190 
Q 3341 2797 3341 1997 
z
" transform="scale(0.015625)"/>
      <path id="DejaVuSans-74" d="M 1172 4494 
L 1172 3500 
L 2356 3500 
L 2356 3053 
L 1172 3053 
L 1172 1153 
Q 1172 725 1289 603 
Q 1406 481 1766 481 
L 2356 481 
L 2356 0 
L 1766 0 
Q 1100 0 847 248 
Q 594 497 594 1153 
L 594 3053 
L 172 3053 
L 172 3500 
L 594 3500 
L 594 4494 
L 1172 4494 
z
" transform="scale(0.015625)"/>
      <path id="DejaVuSans-6f" d="M 1959 3097 
Q 1497 3097 1228 2736 
Q 959 2375 959 1747 
Q 959 1119 1226 758 
Q 1494 397 1959 397 
Q 2419 397 2687 759 
Q 2956 1122 2956 1747 
Q 2956 2369 2687 2733 
Q 2419 3097 1959 3097 
z
M 1959 3584 
Q 2709 3584 3137 3096 
Q 3566 2609 3566 1747 
Q 3566 888 3137 398 
Q 2709 -91 1959 -91 
Q 1206 -91 779 398 
Q 353 888 353 1747 
Q 353 2609 779 3096 
Q 1206 3584 1959 3584 
z
" transform="scale(0.015625)"/>
      <path id="DejaVuSans-6e" d="M 3513 2113 
L 3513 0 
L 2938 0 
L 2938 2094 
Q 2938 2591 2744 2837 
Q 2550 3084 2163 3084 
Q 1697 3084 1428 2787 
Q 1159 2491 1159 1978 
L 1159 0 
L 581 0 
L 581 3500 
L 1159 3500 
L 1159 2956 
Q 1366 3272 1645 3428 
Q 1925 3584 2291 3584 
Q 2894 3584 3203 3211 
Q 3513 2838 3513 2113 
z
" transform="scale(0.015625)"/>
     </defs>
     <use href="#DejaVuSans-53"/>
     <use href="#DejaVuSans-69" transform="translate(63.476562 0)"/>
     <use href="#DejaVuSans-6d" transform="translate(91.259766 0)"/>
     <use href="#DejaVuSans-75" transform="translate(188.671875 0)"/>
     <use href="#DejaVuSans-6c" transform="translate(252.050781 0)"/>
     <use href="#DejaVuSans-61" transform="translate(279.833984 0)"/>
     <use href="#DejaVuSans-74" transform="translate(341.113281 0)"/>
     <use href="#DejaVuSans-69" transform="translate(380.322266 0)"/>
     <use href="#DejaVuSans-6f" transform="translate(408.105469 0)"/>
     <use href="#DejaVuSans-6e" transform="translate(469.287109 0)"/>
    </g>
   </g>
   <g id="text_23">
    <!-- $\sqrt{s}$=360 GeV, 1.0 ab$^{-1}$ -->
    <g transform="translate(70.309859 96.788732) scale(0.15 -0.15)">
     <defs>
      <path id="DejaVuSans-221a" d="M 3488 5191 
L 4078 5191 
L 4078 4891 
L 3719 4891 
L 1863 -128 
L 1656 -128 
L 659 2631 
L 269 2491 
L 191 2741 
L 1075 3047 
L 1875 831 
L 3488 5191 
z
" transform="scale(0.015625)"/>
      <path id="DejaVuSans-Oblique-73" d="M 3200 3397 
L 3091 2853 
Q 2863 2978 2609 3040 
Q 2356 3103 2088 3103 
Q 1634 3103 1373 2948 
Q 1113 2794 1113 2528 
Q 1113 2219 1719 2053 
Q 1766 2041 1788 2034 
L 1972 1978 
Q 2547 1819 2739 1644 
Q 2931 1469 2931 1166 
Q 2931 609 2489 259 
Q 2047 -91 1331 -91 
Q 1053 -91 747 -37 
Q 441 16 72 128 
L 184 722 
Q 500 559 806 475 
Q 1113 391 1394 391 
Q 1816 391 2080 572 
Q 2344 753 2344 1031 
Q 2344 1331 1650 1516 
L 1591 1531 
L 1394 1581 
Q 956 1697 753 1886 
Q 550 2075 550 2369 
Q 550 2928 970 3256 
Q 1391 3584 2113 3584 
Q 2397 3584 2667 3537 
Q 2938 3491 3200 3397 
z
" transform="scale(0.015625)"/>
      <path id="DejaVuSans-3d" d="M 678 2906 
L 4684 2906 
L 4684 2381 
L 678 2381 
L 678 2906 
z
M 678 1631 
L 4684 1631 
L 4684 1100 
L 678 1100 
L 678 1631 
z
" transform="scale(0.015625)"/>
      <path id="DejaVuSans-20" transform="scale(0.015625)"/>
      <path id="DejaVuSans-47" d="M 3809 666 
L 3809 1919 
L 2778 1919 
L 2778 2438 
L 4434 2438 
L 4434 434 
Q 4069 175 3628 42 
Q 3188 -91 2688 -91 
Q 1594 -91 976 548 
Q 359 1188 359 2328 
Q 359 3472 976 4111 
Q 1594 4750 2688 4750 
Q 3144 4750 3555 4637 
Q 3966 4525 4313 4306 
L 4313 3634 
Q 3963 3931 3569 4081 
Q 3175 4231 2741 4231 
Q 1884 4231 1454 3753 
Q 1025 3275 1025 2328 
Q 1025 1384 1454 906 
Q 1884 428 2741 428 
Q 3075 428 3337 486 
Q 3600 544 3809 666 
z
" transform="scale(0.015625)"/>
      <path id="DejaVuSans-65" d="M 3597 1894 
L 3597 1613 
L 953 1613 
Q 991 1019 1311 708 
Q 1631 397 2203 397 
Q 2534 397 2845 478 
Q 3156 559 3463 722 
L 3463 178 
Q 3153 47 2828 -22 
Q 2503 -91 2169 -91 
Q 1331 -91 842 396 
Q 353 884 353 1716 
Q 353 2575 817 3079 
Q 1281 3584 2069 3584 
Q 2775 3584 3186 3129 
Q 3597 2675 3597 1894 
z
M 3022 2063 
Q 3016 2534 2758 2815 
Q 2500 3097 2075 3097 
Q 1594 3097 1305 2825 
Q 1016 2553 972 2059 
L 3022 2063 
z
" transform="scale(0.015625)"/>
      <path id="DejaVuSans-56" d="M 1831 0 
L 50 4666 
L 709 4666 
L 2188 738 
L 3669 4666 
L 4325 4666 
L 2547 0 
L 1831 0 
z
" transform="scale(0.015625)"/>
      <path id="DejaVuSans-2e" d="M 684 794 
L 1344 794 
L 1344 0 
L 684 0 
L 684 794 
z
" transform="scale(0.015625)"/>
      <path id="DejaVuSans-62" d="M 3116 1747 
Q 3116 2381 2855 2742 
Q 2594 3103 2138 3103 
Q 1681 3103 1420 2742 
Q 1159 2381 1159 1747 
Q 1159 1113 1420 752 
Q 1681 391 2138 391 
Q 2594 391 2855 752 
Q 3116 1113 3116 1747 
z
M 1159 2969 
Q 1341 3281 1617 3432 
Q 1894 3584 2278 3584 
Q 2916 3584 3314 3078 
Q 3713 2572 3713 1747 
Q 3713 922 3314 415 
Q 2916 -91 2278 -91 
Q 1894 -91 1617 61 
Q 1341 213 1159 525 
L 1159 0 
L 581 0 
L 581 4863 
L 1159 4863 
L 1159 2969 
z
" transform="scale(0.015625)"/>
     </defs>
     <use href="#DejaVuSans-221a" transform="translate(0 0.684375)"/>
     <use href="#DejaVuSans-Oblique-73" transform="translate(76.220703 0.54375)"/>
     <use href="#DejaVuSans-3d" transform="translate(140.820312 0.684375)"/>
     <use href="#DejaVuSans-33" transform="translate(224.609375 0.684375)"/>
     <use href="#DejaVuSans-36" transform="translate(288.232422 0.684375)"/>
     <use href="#DejaVuSans-30" transform="translate(351.855469 0.684375)"/>
     <use href="#DejaVuSans-20" transform="translate(415.478516 0.684375)"/>
     <use href="#DejaVuSans-47" transform="translate(447.265625 0.684375)"/>
     <use href="#DejaVuSans-65" transform="translate(524.755859 0.684375)"/>
     <use href="#DejaVuSans-56" transform="translate(586.279297 0.684375)"/>
     <use href="#DejaVuSans-2c" transform="translate(654.6875 0.684375)"/>
     <use href="#DejaVuSans-20" transform="translate(686.474609 0.684375)"/>
     <use href="#DejaVuSans-31" transform="translate(718.261719 0.684375)"/>
     <use href="#DejaVuSans-2e" transform="translate(781.884766 0.684375)"/>
     <use href="#DejaVuSans-30" transform="translate(813.671875 0.684375)"/>
     <use href="#DejaVuSans-20" transform="translate(877.294922 0.684375)"/>
     <use href="#DejaVuSans-61" transform="translate(909.082031 0.684375)"/>
     <use href="#DejaVuSans-62" transform="translate(970.361328 0.684375)"/>
     <use href="#DejaVuSans-2212" transform="translate(1034.794922 38.965625) scale(0.7)"/>
     <use href="#DejaVuSans-31" transform="translate(1093.447266 38.965625) scale(0.7)"/>
     <path d="M 63.720703 75.29375 
L 63.720703 81.54375 
L 140.820312 81.54375 
L 140.820312 75.29375 
L 63.720703 75.29375 
z
"/>
    </g>
   </g>
   <g id="text_24">
    <!-- $m(\tilde{\mu})$ [GeV] -->
    <g transform="translate(340.554366 323.774648) scale(0.12 -0.12)">
     <defs>
      <path id="DejaVuSans-5b" d="M 550 4863 
L 1875 4863 
L 1875 4416 
L 1125 4416 
L 1125 -397 
L 1875 -397 
L 1875 -844 
L 550 -844 
L 550 4863 
z
" transform="scale(0.015625)"/>
      <path id="DejaVuSans-5d" d="M 1947 4863 
L 1947 -844 
L 622 -844 
L 622 -397 
L 1369 -397 
L 1369 4416 
L 622 4416 
L 622 4863 
L 1947 4863 
z
" transform="scale(0.015625)"/>
     </defs>
     <use href="#DejaVuSans-Oblique-6d" transform="translate(0 0.046875)"/>
     <use href="#DejaVuSans-28" transform="translate(97.412109 0.046875)"/>
     <use href="#DejaVuSans-303" transform="translate(201.565918 3.3125)"/>
     <use href="#DejaVuSans-Oblique-3bc" transform="translate(136.425781 0.046875)"/>
     <use href="#DejaVuSans-29" transform="translate(200.048828 0.046875)"/>
     <use href="#DejaVuSans-20" transform="translate(239.0625 0.046875)"/>
     <use href="#DejaVuSans-5b" transform="translate(270.849609 0.046875)"/>
     <use href="#DejaVuSans-47" transform="translate(309.863281 0.046875)"/>
     <use href="#DejaVuSans-65" transform="translate(387.353516 0.046875)"/>
     <use href="#DejaVuSans-56" transform="translate(448.876953 0.046875)"/>
     <use href="#DejaVuSans-5d" transform="translate(517.285156 0.046875)"/>
    </g>
   </g>
   <g id="text_25">
    <!-- $m(\tilde{\chi}^{0}_{1})$ [GeV] -->
    <g transform="translate(16.352113 100.260845) rotate(-90) scale(0.12 -0.12)">
     <use href="#DejaVuSans-Oblique-6d" transform="translate(0 0.765625)"/>
     <use href="#DejaVuSans-28" transform="translate(97.412109 0.765625)"/>
     <use href="#DejaVuSans-303" transform="translate(198.455078 4.078125)"/>
     <use href="#DejaVuSans-Oblique-3c7" transform="translate(136.425781 0.765625)"/>
     <use href="#DejaVuSans-30" transform="translate(196.5625 39.046875) scale(0.7)"/>
     <use href="#DejaVuSans-31" transform="translate(196.5625 -26.578125) scale(0.7)"/>
     <use href="#DejaVuSans-29" transform="translate(243.833008 0.765625)"/>
     <use href="#DejaVuSans-20" transform="translate(282.84668 0.765625)"/>
     <use href="#DejaVuSans-5b" transform="translate(314.633789 0.765625)"/>
     <use href="#DejaVuSans-47" transform="translate(353.647461 0.765625)"/>
     <use href="#DejaVuSans-65" transform="translate(431.137695 0.765625)"/>
     <use href="#DejaVuSans-56" transform="translate(492.661133 0.765625)"/>
     <use href="#DejaVuSans-5d" transform="translate(561.069336 0.765625)"/>
    </g>
   </g>
   <g id="text_26">
    <!-- 5 $\sigma$, 5% syst -->
    <g transform="translate(110.014085 171.323944) scale(0.11 -0.11)">
     <defs>
      <path id="DejaVuSans-Oblique-3c3" d="M 2219 3044 
Q 1744 3044 1422 2700 
Q 1081 2341 969 1747 
Q 844 1119 1044 756 
Q 1241 397 1706 397 
Q 2166 397 2503 759 
Q 2844 1122 2966 1747 
Q 3075 2319 2881 2700 
Q 2700 3044 2219 3044 
z
M 2309 3503 
L 4219 3500 
L 4106 2925 
L 3463 2925 
Q 3706 2438 3575 1747 
Q 3406 888 2884 400 
Q 2359 -91 1609 -91 
Q 856 -91 525 400 
Q 194 888 363 1747 
Q 528 2609 1050 3097 
Q 1484 3503 2309 3503 
z
" transform="scale(0.015625)"/>
      <path id="DejaVuSans-25" d="M 4653 2053 
Q 4381 2053 4226 1822 
Q 4072 1591 4072 1178 
Q 4072 772 4226 539 
Q 4381 306 4653 306 
Q 4919 306 5073 539 
Q 5228 772 5228 1178 
Q 5228 1588 5073 1820 
Q 4919 2053 4653 2053 
z
M 4653 2450 
Q 5147 2450 5437 2106 
Q 5728 1763 5728 1178 
Q 5728 594 5436 251 
Q 5144 -91 4653 -91 
Q 4153 -91 3862 251 
Q 3572 594 3572 1178 
Q 3572 1766 3864 2108 
Q 4156 2450 4653 2450 
z
M 1428 4353 
Q 1159 4353 1004 4120 
Q 850 3888 850 3481 
Q 850 3069 1003 2837 
Q 1156 2606 1428 2606 
Q 1700 2606 1854 2837 
Q 2009 3069 2009 3481 
Q 2009 3884 1853 4118 
Q 1697 4353 1428 4353 
z
M 4250 4750 
L 4750 4750 
L 1831 -91 
L 1331 -91 
L 4250 4750 
z
M 1428 4750 
Q 1922 4750 2215 4408 
Q 2509 4066 2509 3481 
Q 2509 2891 2217 2550 
Q 1925 2209 1428 2209 
Q 931 2209 642 2551 
Q 353 2894 353 3481 
Q 353 4063 643 4406 
Q 934 4750 1428 4750 
z
" transform="scale(0.015625)"/>
      <path id="DejaVuSans-73" d="M 2834 3397 
L 2834 2853 
Q 2591 2978 2328 3040 
Q 2066 3103 1784 3103 
Q 1356 3103 1142 2972 
Q 928 2841 928 2578 
Q 928 2378 1081 2264 
Q 1234 2150 1697 2047 
L 1894 2003 
Q 2506 1872 2764 1633 
Q 3022 1394 3022 966 
Q 3022 478 2636 193 
Q 2250 -91 1575 -91 
Q 1294 -91 989 -36 
Q 684 19 347 128 
L 347 722 
Q 666 556 975 473 
Q 1284 391 1588 391 
Q 1994 391 2212 530 
Q 2431 669 2431 922 
Q 2431 1156 2273 1281 
Q 2116 1406 1581 1522 
L 1381 1569 
Q 847 1681 609 1914 
Q 372 2147 372 2553 
Q 372 3047 722 3315 
Q 1072 3584 1716 3584 
Q 2034 3584 2315 3537 
Q 2597 3491 2834 3397 
z
" transform="scale(0.015625)"/>
      <path id="DejaVuSans-79" d="M 2059 -325 
Q 1816 -950 1584 -1140 
Q 1353 -1331 966 -1331 
L 506 -1331 
L 506 -850 
L 844 -850 
Q 1081 -850 1212 -737 
Q 1344 -625 1503 -206 
L 1606 56 
L 191 3500 
L 800 3500 
L 1894 763 
L 2988 3500 
L 3597 3500 
L 2059 -325 
z
" transform="scale(0.015625)"/>
     </defs>
     <use href="#DejaVuSans-35" transform="translate(0 0.78125)"/>
     <use href="#DejaVuSans-20" transform="translate(63.623047 0.78125)"/>
     <use href="#DejaVuSans-Oblique-3c3" transform="translate(95.410156 0.78125)"/>
     <use href="#DejaVuSans-2c" transform="translate(158.789062 0.78125)"/>
     <use href="#DejaVuSans-20" transform="translate(190.576172 0.78125)"/>
     <use href="#DejaVuSans-35" transform="translate(222.363281 0.78125)"/>
     <use href="#DejaVuSans-25" transform="translate(285.986328 0.78125)"/>
     <use href="#DejaVuSans-20" transform="translate(381.005859 0.78125)"/>
     <use href="#DejaVuSans-73" transform="translate(412.792969 0.78125)"/>
     <use href="#DejaVuSans-79" transform="translate(464.892578 0.78125)"/>
     <use href="#DejaVuSans-73" transform="translate(524.072266 0.78125)"/>
     <use href="#DejaVuSans-74" transform="translate(576.171875 0.78125)"/>
    </g>
   </g>
   <g id="text_27">
    <!-- 2 $\sigma$, 5% syst -->
    <g transform="translate(110.014085 185.323944) scale(0.11 -0.11)">
     <use href="#DejaVuSans-32" transform="translate(0 0.78125)"/>
     <use href="#DejaVuSans-20" transform="translate(63.623047 0.78125)"/>
     <use href="#DejaVuSans-Oblique-3c3" transform="translate(95.410156 0.78125)"/>
     <use href="#DejaVuSans-2c" transform="translate(158.789062 0.78125)"/>
     <use href="#DejaVuSans-20" transform="translate(190.576172 0.78125)"/>
     <use href="#DejaVuSans-35" transform="translate(222.363281 0.78125)"/>
     <use href="#DejaVuSans-25" transform="translate(285.986328 0.78125)"/>
     <use href="#DejaVuSans-20" transform="translate(381.005859 0.78125)"/>
     <use href="#DejaVuSans-73" transform="translate(412.792969 0.78125)"/>
     <use href="#DejaVuSans-79" transform="translate(464.892578 0.78125)"/>
     <use href="#DejaVuSans-73" transform="translate(524.072266 0.78125)"/>
     <use href="#DejaVuSans-74" transform="translate(576.171875 0.78125)"/>
    </g>
   </g>
   <g id="text_28">
    <!-- 5 $\sigma$, 0% syst -->
    <g style="fill: #ff0000" transform="translate(110.014085 199.309859) scale(0.11 -0.11)">
     <use href="#DejaVuSans-35" transform="translate(0 0.78125)"/>
     <use href="#DejaVuSans-20" transform="translate(63.623047 0.78125)"/>
     <use href="#DejaVuSans-Oblique-3c3" transform="translate(95.410156 0.78125)"/>
     <use href="#DejaVuSans-2c" transform="translate(158.789062 0.78125)"/>
     <use href="#DejaVuSans-20" transform="translate(190.576172 0.78125)"/>
     <use href="#DejaVuSans-30" transform="translate(222.363281 0.78125)"/>
     <use href="#DejaVuSans-25" transform="translate(285.986328 0.78125)"/>
     <use href="#DejaVuSans-20" transform="translate(381.005859 0.78125)"/>
     <use href="#DejaVuSans-73" transform="translate(412.792969 0.78125)"/>
     <use href="#DejaVuSans-79" transform="translate(464.892578 0.78125)"/>
     <use href="#DejaVuSans-73" transform="translate(524.072266 0.78125)"/>
     <use href="#DejaVuSans-74" transform="translate(576.171875 0.78125)"/>
    </g>
   </g>
   <g id="text_29">
    <!-- 2 $\sigma$, 0% syst -->
    <g style="fill: #ff0000" transform="translate(110.014085 213.352113) scale(0.11 -0.11)">
     <use href="#DejaVuSans-32" transform="translate(0 0.78125)"/>
     <use href="#DejaVuSans-20" transform="translate(63.623047 0.78125)"/>
     <use href="#DejaVuSans-Oblique-3c3" transform="translate(95.410156 0.78125)"/>
     <use href="#DejaVuSans-2c" transform="translate(158.789062 0.78125)"/>
     <use href="#DejaVuSans-20" transform="translate(190.576172 0.78125)"/>
     <use href="#DejaVuSans-30" transform="translate(222.363281 0.78125)"/>
     <use href="#DejaVuSans-25" transform="translate(285.986328 0.78125)"/>
     <use href="#DejaVuSans-20" transform="translate(381.005859 0.78125)"/>
     <use href="#DejaVuSans-73" transform="translate(412.792969 0.78125)"/>
     <use href="#DejaVuSans-79" transform="translate(464.892578 0.78125)"/>
     <use href="#DejaVuSans-73" transform="translate(524.072266 0.78125)"/>
     <use href="#DejaVuSans-74" transform="translate(576.171875 0.78125)"/>
    </g>
   </g>
  </g>
 </g>
 <defs>
  <clipPath id="pb30cb922de">
   <rect x="50.478873" y="27.211268" width="357.112676" height="266.112676"/>
  </clipPath>
  <clipPath id="p9492256b67">
   <rect x="0" y="0" width="417.464789" height="329.71831"/>
  </clipPath>
 </defs>
</svg>

</body></html>
